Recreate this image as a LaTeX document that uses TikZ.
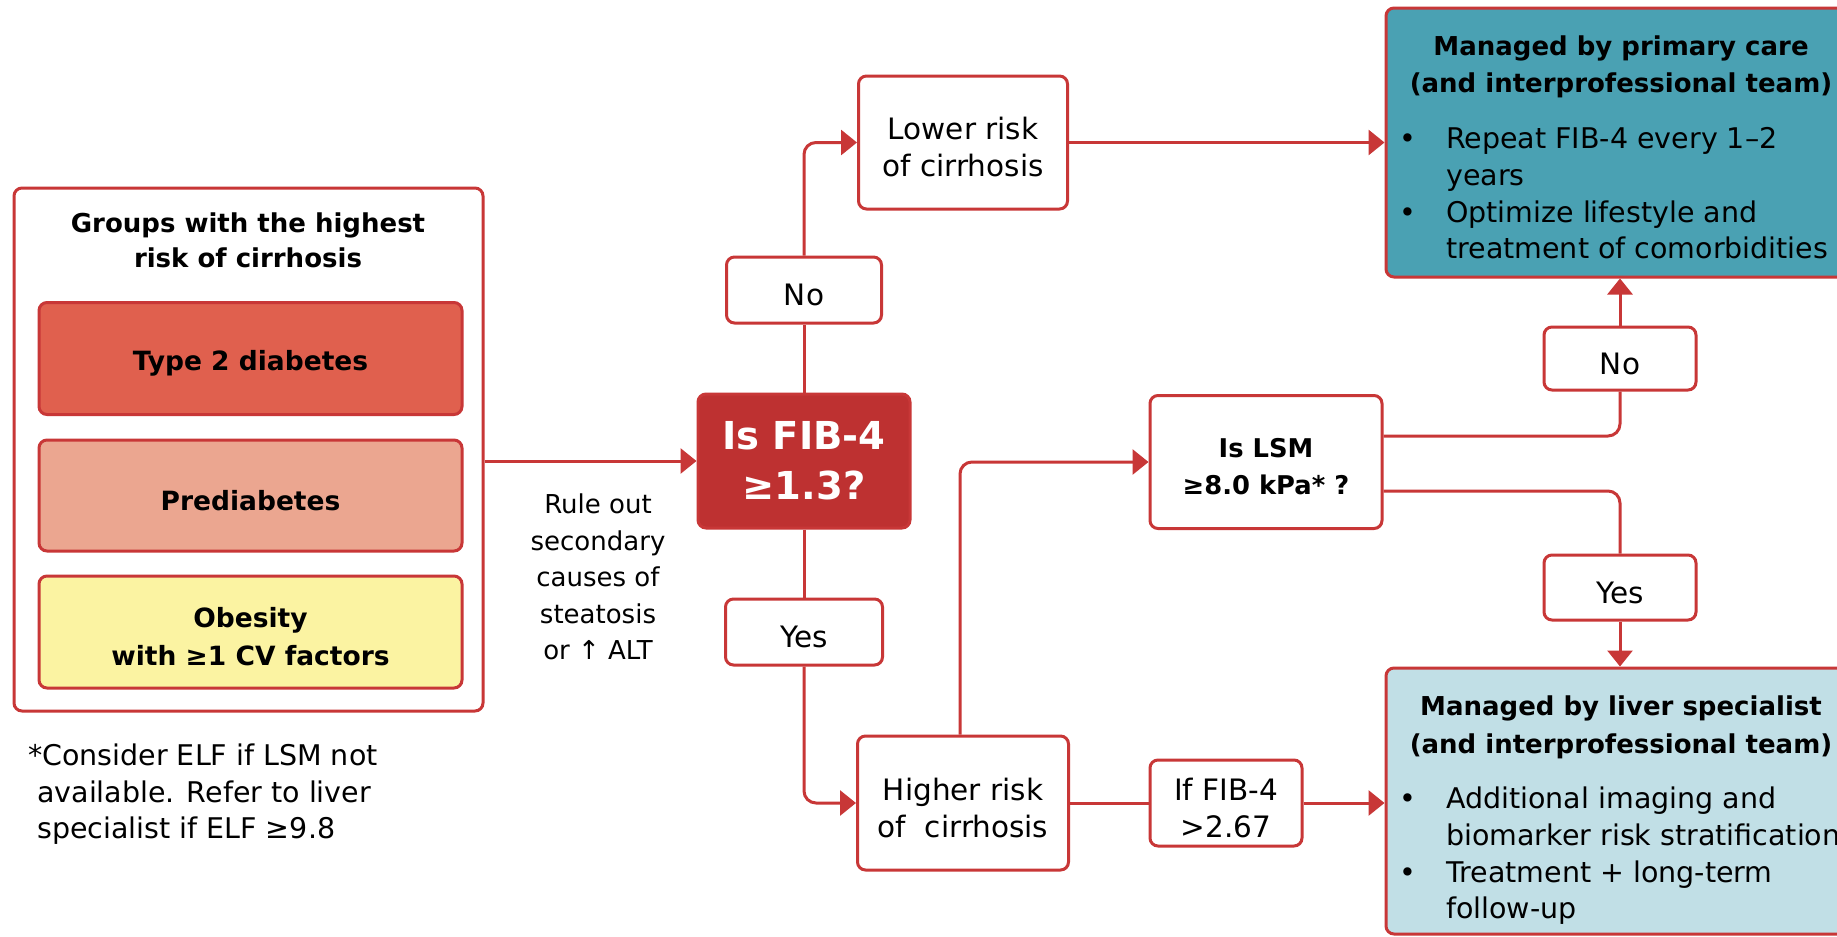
\documentclass[tikz,border=0pt]{standalone}
\usepackage{fontspec}
\setmainfont{DejaVu Sans}
\newfontfamily\symf{DejaVu Sans}
\usetikzlibrary{arrows.meta}
\definecolor{lred}{HTML}{C83737}
\definecolor{fibcol}{HTML}{BE3131}
\definecolor{t2col}{HTML}{E0604E}
\definecolor{precol}{HTML}{EBA690}
\definecolor{obecol}{HTML}{FBF3A2}
\definecolor{primcol}{HTML}{4AA1B3}
\definecolor{livcol}{HTML}{C1DFE6}
\newcommand\gsym{{\symf ≥}}
\newcommand\upsym{{\symf ↑}}
\newcommand\tpad[1]{\rule{0pt}{#1}}
\tikzset{
  box/.style={draw=lred, line width=3pt, rounded corners=8pt, fill=white, align=center, inner sep=0pt, font=\fontsize{29.5}{37}\selectfont},
  grpbox/.style={box, minimum width=423pt, font=\bfseries\fontsize{26.5}{38}\selectfont},
  conn/.style={draw=lred, line width=3pt, rounded corners=12pt},
  arr/.style={conn, -{Triangle[length=16pt,width=25pt]}},
  txt/.style={inner sep=0pt, font=\fontsize{28.5}{37}\selectfont},
  ttl/.style={inner sep=0pt, anchor=base, font=\bfseries\fontsize{26}{37}\selectfont},
  bul/.style={txt, anchor=base west},
  dot/.style={txt, anchor=base}
}
\begin{document}
\begin{tikzpicture}[x=1pt,y=-1pt]
\fill[white] (0,0) rectangle (1837,937);
\clip (0,0) rectangle (1837,937);

% left group
\node[box, minimum width=469pt, minimum height=523pt] (grp) at (248.5,449.5) {};
\node[ttl] (grpt1) at (248,232) {Groups with the highest};
\node[ttl] (grpt2) at (248,267) {risk of cirrhosis};
\node[grpbox, fill=t2col, minimum height=112pt] (type2) at (250.5,358.5) {\tpad{30pt}Type 2 diabetes};
\node[grpbox, fill=precol, minimum height=111pt] (pre) at (250.5,495.5) {\tpad{30pt}Prediabetes};
\node[grpbox, fill=obecol, minimum height=112pt] (obe) at (250.5,632) {\tpad{30pt}Obesity\\with \gsym1 CV factors};

\node[txt, align=center, font=\fontsize{26}{36.5}\selectfont] (rule) at (598,577) {Rule out\\secondary\\causes of\\steatosis\\or \upsym{} ALT};

% decision FIB-4
\node[box, fill=fibcol, text=white, minimum width=212pt, minimum height=134pt, font=\bfseries\fontsize{38.5}{50}\selectfont] (fib) at (804,461) {Is FIB-4\\\gsym1.3?};

\node[box, minimum width=155pt, minimum height=66pt] (no1) at (804,290) {\tpad{31.5pt}No};
\node[box, minimum width=157pt, minimum height=66pt] (yes1) at (804,632) {\tpad{31.5pt}Yes};
\node[box, minimum width=209pt, minimum height=133pt] (lower) at (963,142.5) {\tpad{32.4pt}Lower risk\\of cirrhosis};
\node[box, minimum width=211pt, minimum height=134pt] (higher) at (963,803) {\tpad{32.4pt}Higher risk\\of~ cirrhosis};

\node[box, minimum width=232pt, minimum height=133pt, font=\bfseries\fontsize{25.8}{37}\selectfont] (lsm) at (1266,462) {\tpad{28.8pt}Is LSM\\\gsym8.0 kPa* ?};
\node[box, minimum width=152pt, minimum height=63pt] (no2) at (1620,358.5) {\tpad{31.5pt}No};
\node[box, minimum width=152pt, minimum height=65pt] (yes2) at (1620,587.5) {\tpad{31.5pt}Yes};
\node[box, minimum width=152pt, minimum height=86pt] (iffib) at (1226,803) {\tpad{32.4pt}If FIB-4\\>2.67};

% management boxes
\node[box, fill=primcol, minimum width=464pt, minimum height=269pt] (prim) at (1618,142.5) {};
\node[ttl] (pt1) at (1621,55) {Managed by primary care};
\node[ttl] (pt2) at (1621,92) {(and interprofessional team)};
\node[dot] (pd1) at (1408,148) {\textbullet};
\node[bul] (pb1) at (1446,148) {Repeat FIB-4 every 1–2};
\node[bul] (pb2) at (1446,185) {years};
\node[dot] (pd2) at (1408,222) {\textbullet};
\node[bul] (pb3) at (1446,222) {Optimize lifestyle and};
\node[bul] (pb4) at (1446,258) {treatment of comorbidities};

\node[box, fill=livcol, minimum width=464pt, minimum height=266pt] (liver) at (1618,801) {};
\node[ttl] (lt1) at (1621,715) {Managed by liver specialist};
\node[ttl] (lt2) at (1621,753) {(and interprofessional team)};
\node[dot] (ld1) at (1408,808) {\textbullet};
\node[bul] (lb1) at (1446,808) {Additional imaging and};
\node[bul] (lb2) at (1446,845) {biomarker risk stratification};
\node[dot] (ld2) at (1408,882) {\textbullet};
\node[bul] (lb3) at (1446,882) {Treatment + long-term};
\node[bul] (lb4) at (1446,918) {follow-up};

% footnote
\node[bul] (fn1) at (28,765) {*Consider ELF if LSM not};
\node[bul] (fn2) at (37,802) {available. Refer to liver};
\node[bul] (fn3) at (37,838) {specialist if ELF \gsym9.8};

% connectors
\draw[arr] (grp.east |- fib.west) -- (fib.west);
\draw[conn] (fib.north) -- (no1.south);
\draw[arr] (no1.north) |- (lower.west);
\draw[arr] (lower.east) -- (lower.east -| prim.west);
\draw[conn] (fib.south) -- (yes1.north);
\draw[arr] (yes1.south) |- (higher.west);
\draw[arr] ([xshift=-3pt]higher.north) |- (lsm.west);
\draw[conn] ([yshift=26pt]lsm.east) -| (no2.south);
\draw[arr] (no2.north) -- (no2.north |- prim.south);
\draw[conn] ([yshift=-29pt]lsm.east) -| (yes2.north);
\draw[arr] (yes2.south) -- (yes2.south |- liver.north);
\draw[conn] (higher.east) -- (iffib.west);
\draw[arr] (iffib.east) -- (iffib.east -| liver.west);
\end{tikzpicture}
\end{document}
